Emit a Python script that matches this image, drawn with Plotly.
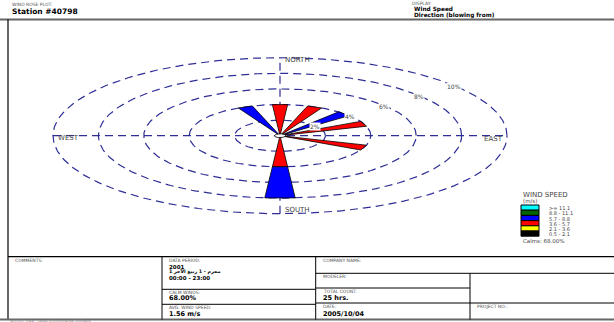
import numpy as np
import plotly.graph_objects as go

# ---------------- data ----------------
directions = ["N", "NNE", "NE", "ENE", "E", "ESE", "SE", "SSE",
              "S", "SSW", "SW", "WSW", "W", "WNW", "NW", "NNW"]
speed_bins = ["0.5 - 2.1", "2.1 - 3.6", "3.6 - 5.7", "5.7 - 8.8", "8.8 - 11.1", ">= 11.1"]
bin_colors = ["#000000", "#ffff00", "#ff0000", "#0000ff", "#006400", "#00ffff"]
freq_05_21 = [0, 0, 0, 0, 0, 0, 0, 0, 0, 0, 0, 0, 0, 0, 0, 0]
freq_21_36 = [0, 0, 0, 0, 0, 0, 0, 0, 0, 0, 0, 0, 0, 0, 0, 0]
freq_36_57 = [4, 4, 0, 4, 0, 4, 0, 0, 4, 0, 0, 0, 0, 0, 0, 0]
freq_57_88 = [0, 0, 4, 0, 0, 0, 0, 0, 4, 0, 0, 0, 0, 0, 0, 4]
freq_88_111 = [0, 0, 0, 0, 0, 0, 0, 0, 0, 0, 0, 0, 0, 0, 0, 0]
freq_ge_111 = [0, 0, 0, 0, 0, 0, 0, 0, 0, 0, 0, 0, 0, 0, 0, 0]
ring_levels = [2, 4, 6, 8, 10]
calm_pct = 68.00
station = "Station #40798"
data_year = "2001"
data_months = "1 محرم - 1 ربيع الآخر"
data_hours = "00:00 - 23:00"
avg_speed = "1.56 m/s"
total_count = "25 hrs."
run_date = "2005/10/04"

all_freqs = [freq_05_21, freq_21_36, freq_36_57, freq_57_88, freq_88_111, freq_ge_111]

# ---------------- geometry (layout) ----------------
W, H = 614, 322
CX, CY = 280, 135.7       # rose centre in pixels
KX, KY = 22.7, 7.8        # pixels per percent (perspective squash)
HALF_W = np.radians(4.8)  # petal half width
RING_COLOR = "#2e2e96"
FONT = "DejaVu Sans"


def px(x):
    return x / W


def py(y):
    return 1 - y / H


fig = go.Figure()

# axis cross
rmax = max(ring_levels)
fig.add_trace(go.Scatter(x=[-rmax, rmax], y=[0, 0], mode="lines",
                         line=dict(color=RING_COLOR, width=1.2, dash="8px,5px"),
                         hoverinfo="skip", showlegend=False))
fig.add_trace(go.Scatter(x=[0, 0], y=[-rmax, rmax], mode="lines",
                         line=dict(color=RING_COLOR, width=1.2, dash="8px,5px"),
                         hoverinfo="skip", showlegend=False))

# rings
t = np.linspace(0, 2 * np.pi, 361)
for r in ring_levels:
    fig.add_trace(go.Scatter(x=r * np.cos(t), y=r * np.sin(t), mode="lines",
                             line=dict(color=RING_COLOR, width=1.2, dash="8px,5px"),
                             hoverinfo="skip", showlegend=False))

# petals
for i, d in enumerate(directions):
    th = np.radians(i * 22.5)
    r0 = 0.0
    for b, freqs in enumerate(all_freqs):
        v = freqs[i]
        if v <= 0:
            continue
        r1 = r0 + v
        angs = [th - HALF_W, th - HALF_W, th + HALF_W, th + HALF_W, th - HALF_W]
        rads = [r0, r1, r1, r0, r0]
        xs = [r * np.sin(a) for r, a in zip(rads, angs)]
        ys = [r * np.cos(a) for r, a in zip(rads, angs)]
        fig.add_trace(go.Scatter(x=xs, y=ys, mode="lines", fill="toself",
                                 fillcolor=bin_colors[b],
                                 line=dict(color="#000000", width=0.8),
                                 hoverinfo="skip", showlegend=False))
        r0 = r1

# calm circle
rc = 0.25
fig.add_trace(go.Scatter(x=rc * np.cos(t), y=rc * np.sin(t), mode="lines", fill="toself",
                         fillcolor="#ffffff", line=dict(color="#000000", width=0.8),
                         hoverinfo="skip", showlegend=False))

annotations = []
lab_ang = np.radians(40)
for r in ring_levels:
    annotations.append(dict(x=r * np.cos(lab_ang), y=r * np.sin(lab_ang), xref="x", yref="y",
                            text=f"{r}%", showarrow=False, bgcolor="#ffffff",
                            font=dict(family=FONT, size=6, color="#444444"),
                            borderpad=0, yshift=-1))

# compass labels
comp_font = dict(family=FONT, size=7, color="#444444")
annotations += [
    dict(x=0, y=rmax, xref="x", yref="y", text="NORTH", showarrow=False, xanchor="left",
         yanchor="middle", xshift=3, yshift=-2, font=comp_font),
    dict(x=0, y=-rmax, xref="x", yref="y", text="SOUTH", showarrow=False, xanchor="left",
         yanchor="middle", xshift=3, yshift=4, font=comp_font),
    dict(x=-rmax, y=0, xref="x", yref="y", text="WEST", showarrow=False, xanchor="left",
         yanchor="middle", xshift=3, yshift=-2, font=comp_font),
    dict(x=rmax, y=0, xref="x", yref="y", text="EAST", showarrow=False, xanchor="right",
         yanchor="middle", xshift=-2, yshift=-3, font=comp_font),
]


def txt(x, y, s, size=5, bold=False, color="#555555", anchor="left"):
    if bold:
        s = f"<b>{s}</b>"
    annotations.append(dict(x=px(x), y=py(y), xref="paper", yref="paper", text=s,
                            showarrow=False, xanchor=anchor, yanchor="middle",
                            font=dict(family=FONT, size=size, color=color)))


# header
txt(10, 4, "WIND ROSE PLOT:", 4.5)
txt(10, 11.5, station, 7.5, True, "#000000")
txt(410, 3.5, "DISPLAY:", 4.5)
txt(412, 9, "Wind Speed", 5.8, True, "#000000")
txt(412, 15, "Direction (blowing from)", 5.8, True, "#000000")

# legend
txt(521, 195, "WIND SPEED", 7, False, "#444444")
txt(521, 201, "(m/s)", 5.5, False, "#444444")
shapes = []
box_top, box_h = 205, 5.2
order = list(range(len(speed_bins)))[::-1]
for k, b in enumerate(order):
    y0 = box_top + k * box_h
    shapes.append(dict(type="rect", xref="paper", yref="paper",
                       x0=px(521), x1=px(539), y0=py(y0), y1=py(y0 + box_h),
                       fillcolor=bin_colors[b], line=dict(color="#000000", width=1)))
    txt(547, y0 + box_h / 2 + 0.5, speed_bins[b], 5, False, "#444444")
txt(521, 240.5, f"Calms: {calm_pct:.2f}%", 5.5, False, "#444444")


def hline(x0, x1, y, w=1, c="#000000"):
    shapes.append(dict(type="line", xref="paper", yref="paper", x0=px(x0), x1=px(x1),
                       y0=py(y), y1=py(y), line=dict(color=c, width=w)))


def vline(x, y0, y1, w=1, c="#000000"):
    shapes.append(dict(type="line", xref="paper", yref="paper", x0=px(x), x1=px(x),
                       y0=py(y0), y1=py(y1), line=dict(color=c, width=w)))


# frame
hline(0, W, 19.5, 2, "#666666")
vline(8, 19.5, 319.5, 1.2)
hline(8, W, 256.7, 1.2)
hline(0, W, 319.5, 2, "#666666")
vline(162, 256.7, 319.5)
vline(315.7, 256.7, 319.5)
hline(162, 315.7, 289.3)
hline(162, 315.7, 304.3)
hline(315.7, W, 273.3)
vline(470, 273.3, 319.5)
hline(315.7, 470, 288)
hline(315.7, W, 303)

# table text
txt(13, 260.5, "COMMENTS:", 4.5)
txt(167, 260.5, "DATA PERIOD:", 4.5)
txt(167, 266.5, data_year, 5.5, True, "#000000")
txt(167, 271.8, data_months, 4.8, True, "#000000")
txt(167, 277.5, data_hours, 5.5, True, "#000000")
txt(167, 292.5, "CALM WINDS:", 4.5)
txt(167, 298, f"{calm_pct:.2f}%", 6.5, True, "#000000")
txt(167, 307.5, "AVG. WIND SPEED:", 4.5)
txt(167, 314, avg_speed, 6.5, True, "#000000")
txt(321, 260.5, "COMPANY NAME:", 4.5)
txt(321, 276.5, "MODELER:", 4.5)
txt(321, 291, "TOTAL COUNT:", 4.5)
txt(321, 298, total_count, 6.5, True, "#000000")
txt(321, 306, "DATE:", 4.5)
txt(321, 313.5, run_date, 6.5, True, "#000000")
txt(475, 306, "PROJECT NO.:", 4.5)
txt(8, 320.8, "WRPLOT View - Lakes Environmental Software", 3.5, False, "#888888")

fig.update_layout(
    width=W, height=H,
    margin=dict(l=0, r=0, t=0, b=0),
    paper_bgcolor="#ffffff", plot_bgcolor="#ffffff",
    xaxis=dict(range=[-CX / KX, (W - CX) / KX], domain=[0, 1], visible=False, fixedrange=True),
    yaxis=dict(range=[-(H - CY) / KY, CY / KY], domain=[0, 1], visible=False, fixedrange=True),
    shapes=shapes, annotations=annotations, showlegend=False,
)

fig.write_html("out.html")
